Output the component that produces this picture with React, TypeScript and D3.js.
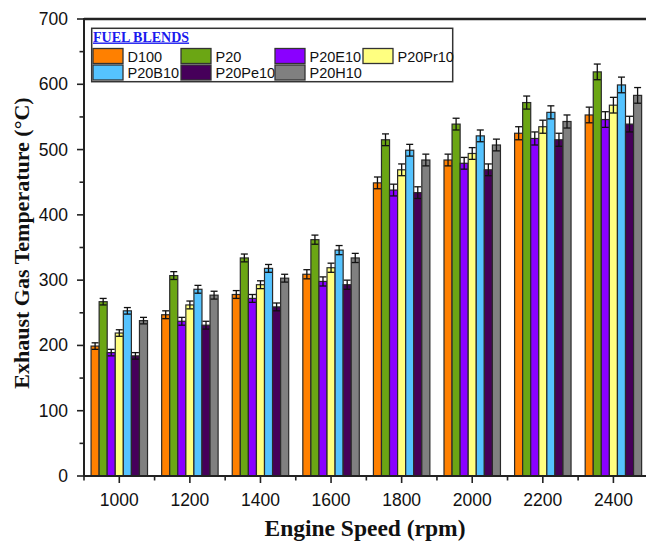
import React from "react";
import * as d3 from "d3";

// ---- data ----
const rpm = [1000, 1200, 1400, 1600, 1800, 2000, 2200, 2400];
const seriesNames = ["D100", "P20", "P20E10", "P20Pr10", "P20B10", "P20Pe10", "P20H10"];
const D100 = [199, 247, 278, 309, 449, 484, 525, 553];
const P20 = [267, 307, 334, 362, 515, 539, 572, 619];
const P20E10 = [189, 237, 272, 298, 438, 479, 517, 546];
const P20Pr10 = [219, 262, 293, 319, 469, 494, 535, 568];
const P20B10 = [253, 286, 318, 346, 499, 521, 557, 599];
const P20Pe10 = [184, 231, 259, 293, 434, 469, 515, 539];
const P20H10 = [238, 277, 303, 334, 484, 507, 543, 583];
const errorBars = [5, 6, 6, 7, 9, 9, 10, 12];
const yTicks = [0, 100, 200, 300, 400, 500, 600, 700];
const xTickLabels = [1000, 1200, 1400, 1600, 1800, 2000, 2200, 2400];

const seriesValues = [D100, P20, P20E10, P20Pr10, P20B10, P20Pe10, P20H10];
const colors = ["#FF8000", "#6BA614", "#8A00FF", "#FFFF80", "#55C3FF", "#46005A", "#808080"];

// ---- layout ----
const W = 646;
const H = 543;
const left = 84;
const rightEdge = 648.7;
const top = 19;
const bottom = 476;
const barWidthRpm = 22.85;

export default function App() {
  const x = d3.scaleLinear().domain([900, 2500]).range([left, rightEdge]);
  const y = d3.scaleLinear().domain([0, 700]).range([bottom, top]);
  const bw = x(900 + barWidthRpm) - x(900);
  const nS = seriesNames.length;

  const minorY = d3.range(50, 700, 100);
  const minorX = d3.range(900, 2600, 200);

  const legendCols = [93, 181, 275, 363];
  const legendRows = [48.5, 65];

  return (
    <svg
      width={W}
      height={H}
      style={{ position: "absolute", left: 0, top: 0, background: "#fff" }}
      fontFamily="'Liberation Sans', Arial, sans-serif"
    >
      <rect x={0} y={0} width={W} height={H} fill="#fff" />
      {/* bars */}
      {rpm.map((r, gi) =>
        seriesValues.map((vals, si) => {
          const cx = x(r) + (si - (nS - 1) / 2) * bw;
          const v = vals[gi];
          const e = errorBars[gi];
          return (
            <g key={`${gi}-${si}`}>
              <rect
                x={cx - bw / 2}
                y={y(v)}
                width={bw}
                height={y(0) - y(v)}
                fill={colors[si]}
                stroke="#2a2a2a"
                strokeWidth={1.2}
              />
              <line x1={cx} x2={cx} y1={y(v - e)} y2={y(v + e)} stroke="#111" strokeWidth={1.3} />
              <line x1={cx - 3.5} x2={cx + 3.5} y1={y(v + e)} y2={y(v + e)} stroke="#111" strokeWidth={1.3} />
              <line x1={cx - 3.5} x2={cx + 3.5} y1={y(v - e)} y2={y(v - e)} stroke="#111" strokeWidth={1.3} />
            </g>
          );
        })
      )}

      {/* frame */}
      <line x1={left} x2={W} y1={top} y2={top} stroke="#222" strokeWidth={2.6} />
      <line x1={left} x2={left} y1={top - 1} y2={bottom + 1} stroke="#222" strokeWidth={2} />
      <line x1={left - 1} x2={W} y1={bottom} y2={bottom} stroke="#222" strokeWidth={2} />

      {/* y ticks */}
      {yTicks.map((t) => (
        <g key={`yt${t}`}>
          <line x1={left - 7} x2={left} y1={y(t)} y2={y(t)} stroke="#222" strokeWidth={1.6} />
          <text
            x={68}
            y={y(t)}
            textAnchor="end"
            dominantBaseline="central"
            fontSize={17.5}
            fill="#111"
          >
            {t}
          </text>
        </g>
      ))}
      {minorY.map((t) => (
        <line key={`ym${t}`} x1={left - 4.5} x2={left} y1={y(t)} y2={y(t)} stroke="#222" strokeWidth={1.6} />
      ))}

      {/* x ticks */}
      {xTickLabels.map((t) => (
        <g key={`xt${t}`}>
          <line x1={x(t)} x2={x(t)} y1={bottom} y2={bottom + 7} stroke="#222" strokeWidth={1.6} />
          <text x={x(t)} y={506} textAnchor="middle" fontSize={17.5} fill="#111">
            {t}
          </text>
        </g>
      ))}
      {minorX.map((t) => (
        <line key={`xm${t}`} x1={x(t)} x2={x(t)} y1={bottom} y2={bottom + 4.5} stroke="#222" strokeWidth={1.6} />
      ))}

      {/* axis titles */}
      <text
        x={365}
        y={536}
        textAnchor="middle"
        fontFamily="'Liberation Serif', 'Times New Roman', serif"
        fontWeight="bold"
        fontSize={23.5}
        fill="#111"
      >
        Engine Speed (rpm)
      </text>
      <text
        transform={`translate(28.5, 243) rotate(-90)`}
        textAnchor="middle"
        fontFamily="'Liberation Serif', 'Times New Roman', serif"
        fontWeight="bold"
        fontSize={22}
        fill="#111"
      >
        Exhaust Gas Temperature (°C)
      </text>

      {/* legend */}
      <rect x={91.7} y={28.3} width={361} height={53.4} fill="#fff" stroke="#333" strokeWidth={1.5} />
      <text
        x={93}
        y={41.5}
        fontFamily="'Liberation Serif', 'Times New Roman', serif"
        fontWeight="bold"
        fontSize={14}
        fill="#1a1aee"
        textDecoration="underline"
      >
        FUEL BLENDS
      </text>
      {seriesNames.map((name, i) => {
        const col = i % 4;
        const row = Math.floor(i / 4);
        const sx = legendCols[col];
        const sy = legendRows[row];
        return (
          <g key={name}>
            <rect x={sx} y={sy} width={30} height={15} fill={colors[i]} stroke="#333" strokeWidth={1.3} />
            <text x={sx + 34.5} y={sy + 13} fontSize={14.5} fill="#111">
              {name}
            </text>
          </g>
        );
      })}
    </svg>
  );
}
